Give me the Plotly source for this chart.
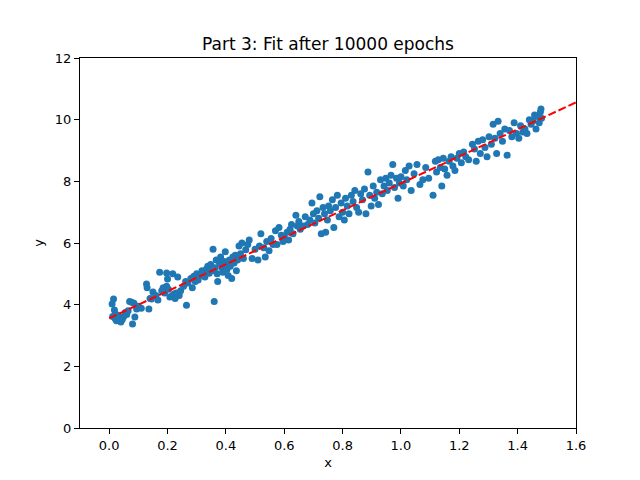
import plotly.graph_objects as go

# scatter samples (x, y)
x_pts = [0.010, 0.012, 0.015, 0.018, 0.020, 0.022, 0.025, 0.030, 0.035, 0.040,
         0.045, 0.050, 0.055, 0.060, 0.065, 0.070, 0.077, 0.080, 0.085, 0.088,
         0.094, 0.100, 0.110, 0.128, 0.130, 0.136, 0.140, 0.145, 0.150, 0.160,
         0.167, 0.173, 0.180, 0.185, 0.190, 0.197, 0.197, 0.200, 0.203, 0.208,
         0.214, 0.218, 0.222, 0.226, 0.230, 0.235, 0.240, 0.245, 0.255, 0.262,
         0.265, 0.270, 0.280, 0.285, 0.290, 0.295, 0.300, 0.305, 0.312, 0.318,
         0.322, 0.328, 0.333, 0.338, 0.343, 0.348, 0.352, 0.356, 0.360, 0.363,
         0.367, 0.370, 0.372, 0.378, 0.382, 0.386, 0.390, 0.394, 0.398, 0.400,
         0.404, 0.408, 0.412, 0.415, 0.420, 0.424, 0.428, 0.432, 0.436, 0.440,
         0.445, 0.450, 0.455, 0.460, 0.468, 0.475, 0.480, 0.490, 0.500, 0.510,
         0.515, 0.520, 0.530, 0.535, 0.540, 0.548, 0.555, 0.562, 0.570, 0.575,
         0.582, 0.590, 0.596, 0.600, 0.610, 0.615, 0.620, 0.625, 0.630, 0.640,
         0.645, 0.650, 0.655, 0.665, 0.672, 0.680, 0.688, 0.695, 0.700, 0.705,
         0.712, 0.718, 0.722, 0.727, 0.733, 0.738, 0.742, 0.748, 0.752, 0.758,
         0.765, 0.770, 0.776, 0.782, 0.788, 0.795, 0.800, 0.806, 0.810, 0.816,
         0.822, 0.830, 0.836, 0.842, 0.848, 0.855, 0.862, 0.868, 0.875, 0.880,
         0.887, 0.893, 0.898, 0.905, 0.910, 0.917, 0.923, 0.930, 0.936, 0.942,
         0.948, 0.953, 0.960, 0.966, 0.972, 0.978, 0.985, 0.990, 0.995, 1.000,
         1.008, 1.015, 1.020, 1.028, 1.035, 1.045, 1.055, 1.065, 1.075, 1.085,
         1.095, 1.110, 1.118, 1.122, 1.128, 1.135, 1.140, 1.145, 1.150, 1.158,
         1.165, 1.172, 1.178, 1.185, 1.192, 1.200, 1.207, 1.215, 1.222, 1.232,
         1.245, 1.252, 1.258, 1.265, 1.272, 1.280, 1.288, 1.295, 1.302, 1.310,
         1.316, 1.322, 1.328, 1.333, 1.340, 1.348, 1.356, 1.364, 1.372, 1.380,
         1.388, 1.396, 1.404, 1.410, 1.418, 1.425, 1.432, 1.440, 1.446, 1.452,
         1.458, 1.463, 1.468, 1.474, 1.478, 1.480, 1.482]
y_pts = [4.02, 3.62, 4.18, 3.83, 3.55, 3.70, 3.48, 3.65, 3.58, 3.44,
         3.52, 3.62, 3.75, 3.68, 3.80, 4.10, 4.08, 3.37, 4.05, 3.60,
         3.86, 3.95, 3.88, 4.67, 4.55, 3.86, 4.20, 4.18, 4.41, 4.30,
         4.15, 5.05, 4.45, 4.55, 4.38, 5.03, 4.60, 4.83, 4.50, 4.25,
         4.28, 5.00, 4.35, 4.20, 4.38, 4.90, 4.30, 4.45, 4.60, 4.75,
         3.98, 4.70, 4.85, 4.55, 4.92, 4.75, 5.00, 4.80, 4.95, 5.10,
         5.05, 4.90, 5.15, 5.25, 5.02, 5.30, 5.10, 5.80, 4.10, 5.20,
         5.45, 5.00, 4.75, 5.35, 5.55, 5.20, 5.05, 5.40, 5.72, 5.30,
         5.15, 4.95, 5.45, 5.25, 4.85, 5.55, 5.35, 5.60, 5.10, 5.45,
         5.90, 5.65, 6.00, 5.50, 5.78, 5.95, 6.10, 5.50, 5.80, 5.45,
         5.90, 6.30, 5.85, 5.55, 6.05, 5.75, 6.15, 5.95, 6.40, 5.95,
         6.50, 6.25, 6.05, 6.20, 6.35, 6.10, 6.45, 6.60, 6.30, 6.90,
         6.55, 6.70, 6.45, 6.55, 6.85, 6.60, 6.75, 7.30, 6.95, 6.65,
         7.05, 6.80, 7.50, 6.30, 7.15, 6.95, 6.35, 6.75, 7.20, 7.05,
         7.40, 6.50, 7.15, 7.55, 6.85, 7.30, 7.00, 6.75, 7.45, 7.20,
         6.95, 7.55, 7.35, 7.70, 7.15, 7.00, 7.60, 7.40, 7.75, 6.95,
         8.30, 7.55, 7.20, 7.85, 7.45, 7.65, 7.25, 8.05, 7.60, 7.85,
         8.10, 7.70, 7.95, 8.20, 8.55, 7.80, 8.10, 7.45, 7.95, 8.15,
         7.85, 8.35, 8.05, 8.50, 7.70, 8.25, 8.55, 7.90, 8.05, 8.45,
         8.10, 7.55, 8.65, 8.30, 8.70, 8.45, 7.85, 8.75, 8.40, 8.20,
         8.65, 8.80, 8.50, 8.35, 8.75, 8.90, 8.60, 8.95, 8.80, 8.70,
         9.20, 9.05, 8.65, 9.30, 8.90, 9.35, 9.10, 8.80, 9.45, 9.20,
         9.85, 9.40, 8.90, 9.95, 9.55, 9.30, 9.70, 8.85, 9.65, 9.45,
         9.90, 9.55, 9.40, 9.80, 9.60, 9.70, 9.55, 10.00, 9.85, 9.95,
         10.15, 9.70, 10.10, 9.90, 10.25, 10.35, 10.05]

# fitted line end points
x_fit = [0.0, 1.6]
y_fit = [3.56, 10.56]

x_ticks = [0.0, 0.2, 0.4, 0.6, 0.8, 1.0, 1.2, 1.4, 1.6]
y_ticks = [0, 2, 4, 6, 8, 10, 12]

fig = go.Figure()

fig.add_trace(go.Scatter(
    x=x_pts, y=y_pts, mode='markers',
    marker=dict(color='#1f77b4', size=7, line_width=0),
    showlegend=False
))

fig.add_trace(go.Scatter(
    x=x_fit, y=y_fit, mode='lines',
    line=dict(color='red', width=2, dash='8px,3px'),
    showlegend=False
))

axis_style = dict(
    showgrid=False, zeroline=False, showline=True, mirror=True,
    linecolor='black', linewidth=1, ticks='outside', ticklen=5,
    tickcolor='black', tickfont=dict(size=13, color='black')
)

# page body has an 8px margin, so the figure is a bit smaller than the window
fig.update_layout(
    width=632, height=472,
    margin=dict(l=72, r=64, t=50, b=52),
    paper_bgcolor='white', plot_bgcolor='white',
    font=dict(family='DejaVu Sans', color='black'),
    title=dict(text='Part 3: Fit after 10000 epochs', xref='paper', x=0.5,
               xanchor='center', yref='container', y=0.924, yanchor='middle',
               font=dict(size=17)),
    xaxis=dict(range=[-0.1, 1.6], tickvals=x_ticks, tickformat='.1f',
               title=dict(text='x', font=dict(size=13), standoff=6), **axis_style),
    yaxis=dict(range=[0, 12], tickvals=y_ticks,
               title=dict(text='y', font=dict(size=13), standoff=8), **axis_style),
)

fig.write_html("out.html")
